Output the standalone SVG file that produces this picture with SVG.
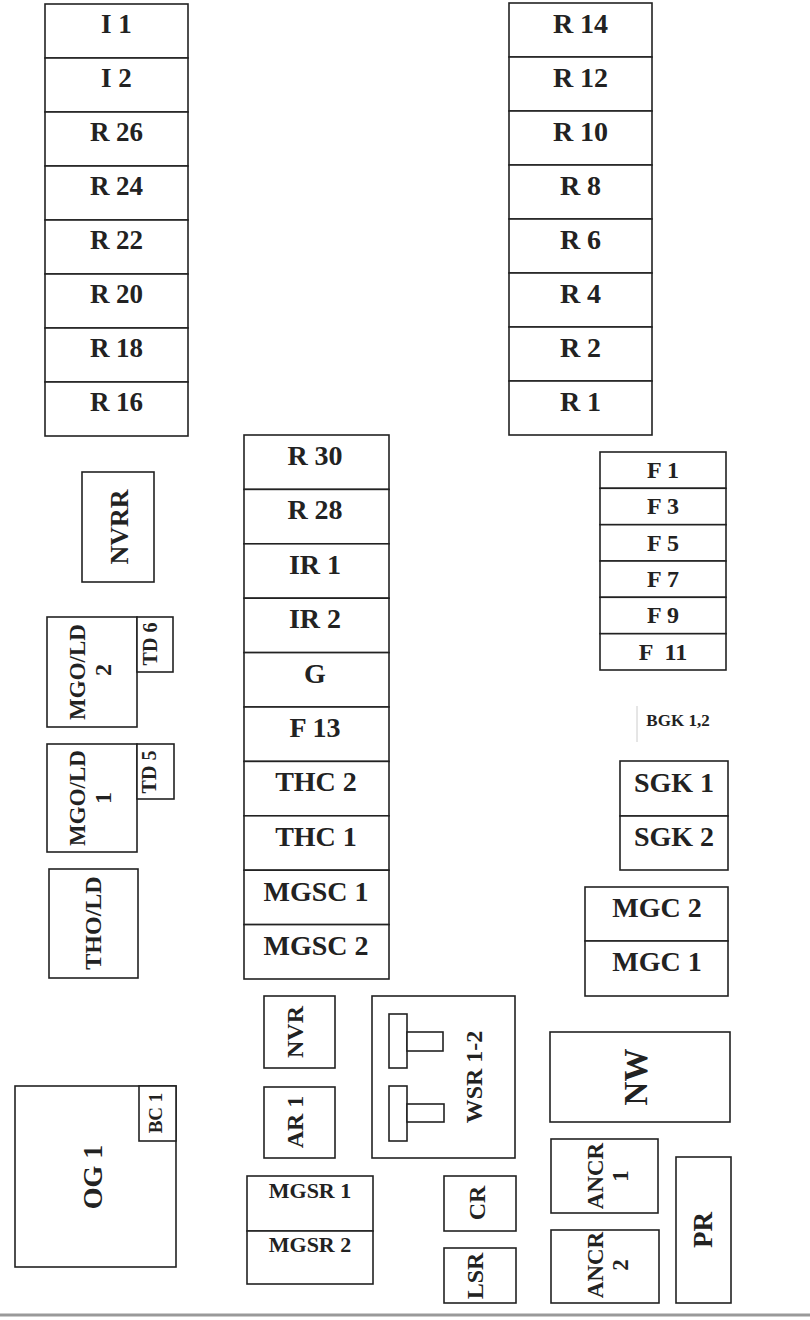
<svg xmlns="http://www.w3.org/2000/svg" width="810" height="1320" viewBox="0 0 810 1320">
<style>
.b{fill:#fff;stroke:#222;stroke-width:1.6}
.t{font-family:"Liberation Serif","Times New Roman",serif;font-weight:bold;fill:#222;text-anchor:middle}
.s27{font-size:27px}.s28{font-size:28px}.s22{font-size:22px}.s17{font-size:17px}.s24{font-size:24px}.s23{font-size:23px}.s20{font-size:20px}.s19{font-size:19px}.s26{font-size:26px}.s33{font-size:33px}
</style>
<rect width="810" height="1320" fill="#fff"/>
<g id="connectors"/>
<!-- Left column -->
<g id="I1"><rect class="b" x="45" y="4" width="143" height="54"/><text class="t s27" x="116.5" y="33">I 1</text></g>
<g id="I2"><rect class="b" x="45" y="58" width="143" height="54"/><text class="t s27" x="116.5" y="87">I 2</text></g>
<g id="R26"><rect class="b" x="45" y="112" width="143" height="54"/><text class="t s27" x="116.5" y="141">R 26</text></g>
<g id="R24"><rect class="b" x="45" y="166" width="143" height="54"/><text class="t s27" x="116.5" y="195">R 24</text></g>
<g id="R22"><rect class="b" x="45" y="220" width="143" height="54"/><text class="t s27" x="116.5" y="249">R 22</text></g>
<g id="R20"><rect class="b" x="45" y="274" width="143" height="54"/><text class="t s27" x="116.5" y="303">R 20</text></g>
<g id="R18"><rect class="b" x="45" y="328" width="143" height="54"/><text class="t s27" x="116.5" y="357">R 18</text></g>
<g id="R16"><rect class="b" x="45" y="382" width="143" height="54"/><text class="t s27" x="116.5" y="411">R 16</text></g>
<!-- Right column -->
<g id="R14"><rect class="b" x="509" y="3" width="143" height="54"/><text class="t s28" x="580.5" y="33">R 14</text></g>
<g id="R12"><rect class="b" x="509" y="57" width="143" height="54"/><text class="t s28" x="580.5" y="87">R 12</text></g>
<g id="R10"><rect class="b" x="509" y="111" width="143" height="54"/><text class="t s28" x="580.5" y="141">R 10</text></g>
<g id="R8"><rect class="b" x="509" y="165" width="143" height="54"/><text class="t s28" x="580.5" y="195">R 8</text></g>
<g id="R6"><rect class="b" x="509" y="219" width="143" height="54"/><text class="t s28" x="580.5" y="249">R 6</text></g>
<g id="R4"><rect class="b" x="509" y="273" width="143" height="54"/><text class="t s28" x="580.5" y="303">R 4</text></g>
<g id="R2"><rect class="b" x="509" y="327" width="143" height="54"/><text class="t s28" x="580.5" y="357">R 2</text></g>
<g id="R1"><rect class="b" x="509" y="381" width="143" height="54"/><text class="t s28" x="580.5" y="411">R 1</text></g>
<!-- Middle column -->
<g id="R30"><rect class="b" x="244" y="435" width="145" height="54.4"/><text class="t s28" x="315" y="465">R 30</text></g>
<g id="R28"><rect class="b" x="244" y="489.4" width="145" height="54.4"/><text class="t s28" x="315" y="519.4">R 28</text></g>
<g id="IR1"><rect class="b" x="244" y="543.8" width="145" height="54.4"/><text class="t s28" x="315" y="573.8">IR 1</text></g>
<g id="IR2"><rect class="b" x="244" y="598.2" width="145" height="54.4"/><text class="t s28" x="315" y="628.2">IR 2</text></g>
<g id="G"><rect class="b" x="244" y="652.6" width="145" height="54.4"/><text class="t s28" x="315" y="682.6">G</text></g>
<g id="F13"><rect class="b" x="244" y="707" width="145" height="54.4"/><text class="t s28" x="315" y="737">F 13</text></g>
<g id="THC2"><rect class="b" x="244" y="761.4" width="145" height="54.4"/><text class="t s28" x="316" y="791.4">THC 2</text></g>
<g id="THC1"><rect class="b" x="244" y="815.8" width="145" height="54.4"/><text class="t s28" x="316" y="845.8">THC 1</text></g>
<g id="MGSC1"><rect class="b" x="244" y="870.2" width="145" height="54.4"/><text class="t s28" x="316" y="901">MGSC 1</text></g>
<g id="MGSC2"><rect class="b" x="244" y="924.6" width="145" height="54.4"/><text class="t s28" x="316" y="955.4">MGSC 2</text></g>
<!-- F column -->
<g id="F1"><rect class="b" x="600" y="452" width="126" height="36.3"/><text class="t s24" x="663" y="478">F 1</text></g>
<g id="F3"><rect class="b" x="600" y="488.3" width="126" height="36.4"/><text class="t s24" x="663" y="514.3">F 3</text></g>
<g id="F5"><rect class="b" x="600" y="524.7" width="126" height="36.3"/><text class="t s24" x="663" y="550.7">F 5</text></g>
<g id="F7"><rect class="b" x="600" y="561" width="126" height="36.3"/><text class="t s24" x="663" y="587">F 7</text></g>
<g id="F9"><rect class="b" x="600" y="597.3" width="126" height="36.4"/><text class="t s24" x="663" y="623.3">F 9</text></g>
<g id="F11"><rect class="b" x="600" y="633.7" width="126" height="36.3"/><text class="t s24" x="663" y="659.7" xml:space="preserve">F  11</text></g>
<!-- BGK -->
<g id="BGK12"><line x1="637" y1="706" x2="637" y2="742" stroke="#ccc" stroke-width="1"/><text class="t s17" x="678" y="726">BGK 1,2</text></g>
<!-- SGK -->
<g id="SGK1"><rect class="b" x="620" y="761" width="108" height="55"/><text class="t s28" x="674" y="792">SGK 1</text></g>
<g id="SGK2"><rect class="b" x="620" y="816" width="108" height="54"/><text class="t s28" x="674" y="846">SGK 2</text></g>
<!-- MGC -->
<g id="MGC2"><rect class="b" x="585" y="887" width="143" height="54"/><text class="t s28" x="657" y="917">MGC 2</text></g>
<g id="MGC1"><rect class="b" x="585" y="941" width="143" height="55"/><text class="t s28" x="657" y="971">MGC 1</text></g>
<!-- NVRR -->
<g id="NVRR"><rect class="b" x="82" y="472" width="72" height="110"/><text class="t s26" transform="translate(128,527) rotate(-90)">NVRR</text></g>
<!-- MGO/LD 2 -->
<g id="MGOLD2"><rect class="b" x="47" y="617" width="90" height="110"/><text class="t s23" transform="translate(85,672) rotate(-90)">MGO/LD</text><text class="t s24" transform="translate(111,670) rotate(-90)">2</text></g>
<g id="TD6"><rect class="b" x="137" y="617" width="36" height="55"/><text class="t s20" transform="translate(157,644) rotate(-90)">TD 6</text></g>
<!-- MGO/LD 1 -->
<g id="MGOLD1"><rect class="b" x="47" y="744" width="90" height="108"/><text class="t s23" transform="translate(85,798) rotate(-90)">MGO/LD</text><text class="t s24" transform="translate(111,798) rotate(-90)">1</text></g>
<g id="TD5"><rect class="b" x="137" y="744" width="37" height="55"/><text class="t s20" transform="translate(156,772) rotate(-90)">TD 5</text></g>
<!-- THO/LD -->
<g id="THOLD"><rect class="b" x="49" y="869" width="89" height="109"/><text class="t s24" transform="translate(101,923) rotate(-90)">THO/LD</text></g>
<!-- NVR / AR1 -->
<g id="NVR"><rect class="b" x="264" y="996" width="71" height="72"/><text class="t s24" transform="translate(303,1032) rotate(-90)">NVR</text></g>
<g id="AR1"><rect class="b" x="264" y="1087" width="71" height="71"/><text class="t s24" transform="translate(303,1122) rotate(-90)">AR 1</text></g>
<!-- WSR 1-2 -->
<g id="WSR12"><rect class="b" x="372" y="996" width="143" height="162"/>
<rect class="b" x="389" y="1014" width="18" height="54"/><rect class="b" x="407" y="1032" width="36" height="19"/>
<rect class="b" x="389" y="1086" width="18" height="55"/><rect class="b" x="407" y="1104" width="37" height="18"/>
<text class="t s24" transform="translate(482,1077) rotate(-90)">WSR 1-2</text></g>
<!-- OG1 -->
<g id="OG1"><rect class="b" x="15" y="1086" width="161" height="181"/><text class="t s28" transform="translate(102,1177) rotate(-90)">OG 1</text></g>
<g id="BC1"><rect class="b" x="139" y="1086" width="37" height="55"/><text class="t s19" transform="translate(162,1113) rotate(-90)">BC 1</text></g>
<!-- MGSR -->
<g id="MGSR1"><rect class="b" x="247" y="1176" width="126" height="55"/><text class="t s22" x="310" y="1198">MGSR 1</text></g>
<g id="MGSR2"><rect class="b" x="247" y="1231" width="126" height="53"/><text class="t s22" x="310" y="1252">MGSR 2</text></g>
<!-- CR / LSR -->
<g id="CR"><rect class="b" x="444" y="1176" width="72" height="55"/><text class="t s24" transform="translate(485,1203) rotate(-90)">CR</text></g>
<g id="LSR"><rect class="b" x="444" y="1248" width="72" height="55"/><text class="t s24" transform="translate(483,1276) rotate(-90)">LSR</text></g>
<!-- NW -->
<g id="NW"><rect class="b" x="550" y="1032" width="180" height="90"/><text class="t s33" transform="translate(647,1077) rotate(-90)">NW</text></g>
<!-- ANCR -->
<g id="ANCR1"><rect class="b" x="551" y="1139" width="107" height="74"/><text class="t s23" transform="translate(603,1176) rotate(-90)">ANCR</text><text class="t s23" transform="translate(628,1176) rotate(-90)">1</text></g>
<g id="ANCR2"><rect class="b" x="551" y="1230" width="108" height="73"/><text class="t s23" transform="translate(603,1265) rotate(-90)">ANCR</text><text class="t s23" transform="translate(628,1265) rotate(-90)">2</text></g>
<!-- PR -->
<g id="PR"><rect class="b" x="676" y="1157" width="55" height="146"/><text class="t s27" transform="translate(712,1230) rotate(-90)">PR</text></g>
<!-- bottom edge -->
<line x1="0" y1="1315" x2="810" y2="1315" stroke="#999" stroke-width="3"/>
</svg>
